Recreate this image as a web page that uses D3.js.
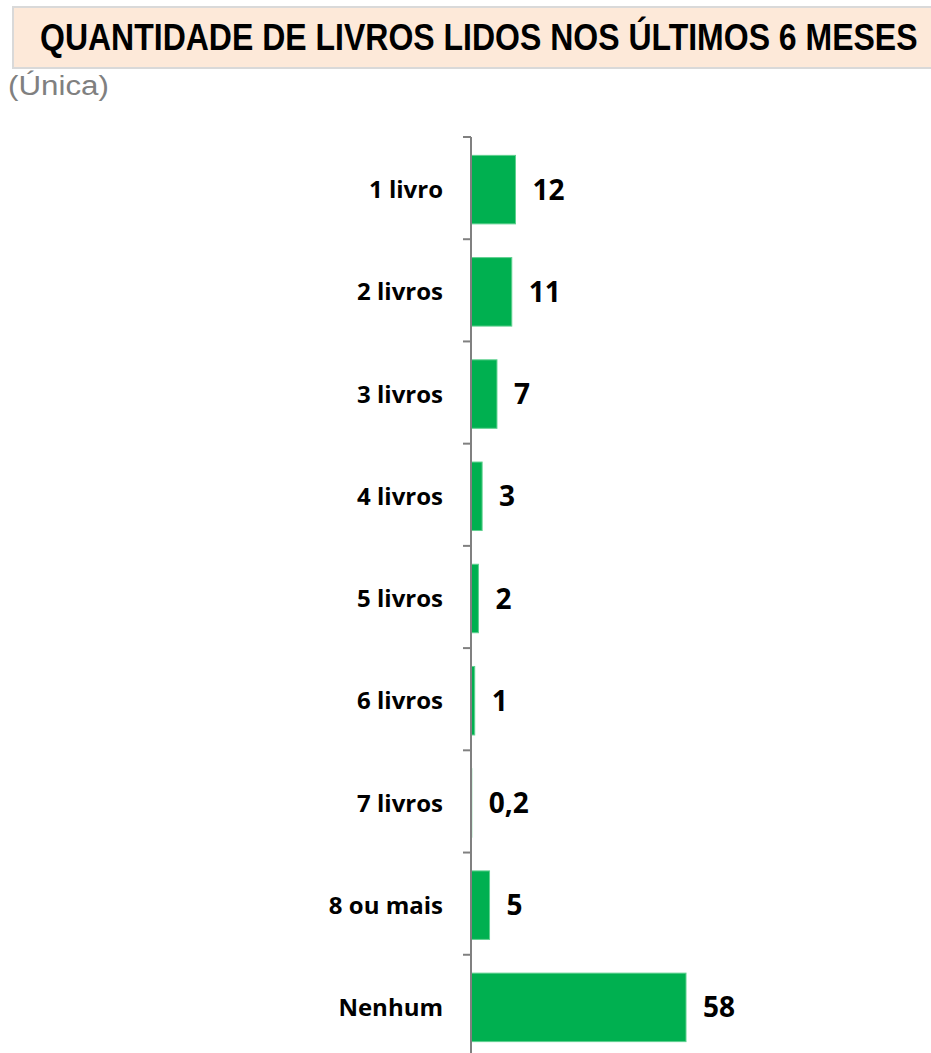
<!DOCTYPE html>
<html><head><meta charset="utf-8">
<script src="https://cdn.jsdelivr.net/npm/d3@7"></script>
<style>body{margin:0;background:#fff}</style>
</head><body>
<script>
const categories = ["1 livro","2 livros","3 livros","4 livros","5 livros","6 livros","7 livros","8 ou mais","Nenhum"];
const values = [12,11,7,3,2,1,0.2,5,58];
const valueLabels = ["12","11","7","3","2","1","0,2","5","58"];
const titleText = "QUANTIDADE DE LIVROS LIDOS NOS ÚLTIMOS 6 MESES";
const subtitleText = "(Única)";

const W = 931, H = 1053;
const svg = d3.select("body").append("svg").attr("width", W).attr("height", H);

// helper: fit text horizontally into a given width using a scale transform
function fitText(sel, x, y, width) {
  const natural = sel.node().getComputedTextLength();
  const sx = width / natural;
  sel.attr("x", 0).attr("y", 0)
    .attr("transform", `translate(${x},${y}) scale(${sx},1)`);
}

// Title box
svg.append("rect").attr("x", 13).attr("y", 7).attr("width", 930).attr("height", 61)
  .attr("fill", "#fde9d9").attr("stroke", "#d9d9d9").attr("stroke-width", 2);
const title = svg.append("text")
  .attr("font-family", "'Liberation Sans Narrow','Liberation Sans',Arial,sans-serif")
  .attr("font-weight", "bold").attr("font-size", 37).attr("fill", "#000")
  .text(titleText);
fitText(title, 40, 50, 878);
const sub = svg.append("text")
  .attr("font-family", "'Liberation Sans Narrow','Liberation Sans',Arial,sans-serif")
  .attr("font-size", 28).attr("fill", "#808080")
  .text(subtitleText);
fitText(sub, 8, 95, 101);

const x0 = 471;
const x = d3.scaleLinear().domain([0, 58]).range([x0, 686]);
const y = d3.scaleBand().domain(categories).range([138, 1059]).paddingInner(0.33).paddingOuter(0.17);

const g = svg.append("g");
g.selectAll("rect.bar").data(categories).enter().append("rect")
  .attr("class", "bar")
  .attr("x", x0)
  .attr("y", d => y(d))
  .attr("width", (d, i) => x(values[i]) - x0)
  .attr("height", y.bandwidth())
  .attr("fill", "#00b050")
  .attr("stroke", "#5fd08f").attr("stroke-width", 1);

// axis
const step = y.step();
const axis = svg.append("g");
axis.append("line").attr("x1", x0).attr("x2", x0).attr("y1", 137).attr("y2", H)
  .attr("stroke", "#808080").attr("stroke-width", 2);
categories.forEach((c, i) => {
  const ty = 137 + i * step;
  axis.append("line").attr("x1", x0 - 8).attr("x2", x0).attr("y1", ty).attr("y2", ty)
    .attr("stroke", "#808080").attr("stroke-width", 2);
});

// category labels
g.selectAll("text.cat").data(categories).enter().append("text")
  .attr("class", "cat")
  .attr("x", 443)
  .attr("y", d => y(d) + y.bandwidth() / 2)
  .attr("dy", "0.36em")
  .attr("text-anchor", "end")
  .attr("font-family", "'Open Sans',Carlito,sans-serif")
  .attr("font-weight", "bold").attr("font-size", 24).attr("fill", "#000")
  .text(d => d);

// value labels
g.selectAll("text.val").data(categories).enter().append("text")
  .attr("class", "val")
  .attr("x", (d, i) => x(values[i]) + 17)
  .attr("y", d => y(d) + y.bandwidth() / 2)
  .attr("dy", "0.36em")
  .attr("font-family", "'Open Sans',Carlito,sans-serif")
  .attr("font-weight", "bold").attr("font-size", 28).attr("fill", "#000")
  .text((d, i) => valueLabels[i]);
</script>
</body></html>
